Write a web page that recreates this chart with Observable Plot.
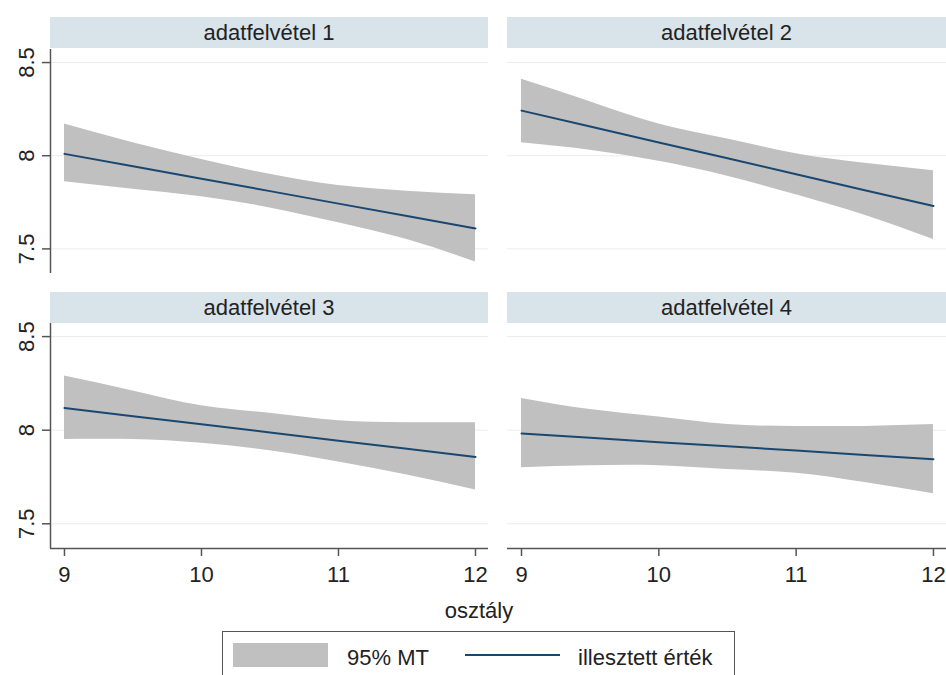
<!DOCTYPE html>
<html>
<head>
<meta charset="utf-8">
<script src="https://cdn.jsdelivr.net/npm/d3@7"></script>
<script src="https://cdn.jsdelivr.net/npm/@observablehq/plot@0.6"></script>
<style>
  html, body { margin: 0; padding: 0; overflow: hidden; background: #fff; }
  #chart { position: relative; width: 946px; height: 675px; font-family: "Liberation Sans", Arial, sans-serif; color: #222; }
  .strip { position: absolute; height: 31px; line-height: 31px; background: #d9e3ea; text-align: center; font-size: 22px; color: #222; }
  .abs { position: absolute; }
  .txt { position: absolute; font-size: 22px; line-height: 26px; white-space: nowrap; color: #222; }
  svg { overflow: visible; }
</style>
</head>
<body>
<div id="chart"></div>
<script>
// ---- data ----
const xs = [9, 9.5, 10, 10.5, 11, 11.5, 12];

const fit1 = [8.010, 7.943, 7.877, 7.810, 7.743, 7.677, 7.610];
const lo1  = [7.86, 7.82, 7.78, 7.72, 7.64, 7.55, 7.43];
const hi1  = [8.17, 8.07, 7.98, 7.90, 7.84, 7.81, 7.79];

const fit2 = [8.242, 8.157, 8.071, 7.986, 7.901, 7.815, 7.730];
const lo2  = [8.07, 8.03, 7.97, 7.89, 7.79, 7.68, 7.55];
const hi2  = [8.41, 8.29, 8.17, 8.09, 8.01, 7.96, 7.92];

const fit3 = [8.119, 8.075, 8.032, 7.988, 7.944, 7.901, 7.857];
const lo3  = [7.95, 7.95, 7.93, 7.89, 7.83, 7.76, 7.68];
const hi3  = [8.29, 8.21, 8.13, 8.09, 8.05, 8.04, 8.04];

const fit4 = [7.982, 7.959, 7.936, 7.914, 7.891, 7.868, 7.845];
const lo4  = [7.80, 7.81, 7.81, 7.79, 7.77, 7.72, 7.66];
const hi4  = [8.17, 8.11, 8.07, 8.03, 8.02, 8.02, 8.03];

const panelTitles = ["adatfelvétel 1", "adatfelvétel 2", "adatfelvétel 3", "adatfelvétel 4"];
const yTicks = [7.5, 8, 8.5];
const yTickLabels = ["7.5", "8", "8.5"];
const xTicks = [9, 10, 11, 12];
const xTickLabels = ["9", "10", "11", "12"];
const xTitle = "osztály";
const legendLabels = ["95% MT", "illesztett érték"];

// ---- styling ----
const bandColor = "#c0c0c0";
const lineColor = "#1a476f";
const axisColor = "#555";
const gridColor = "#ececec";
const xDomain = [8.898, 12.095];
const yDomain = [7.368, 8.57];

const series = [
  {fit: fit1, lo: lo1, hi: hi1},
  {fit: fit2, lo: lo2, hi: hi2},
  {fit: fit3, lo: lo3, hi: hi3},
  {fit: fit4, lo: lo4, hi: hi4}
];

const layout = [
  {left: 0,   top: 39,  fw: 438, fh: 224, ml: 50, mb: 0,  showY: true,  showX: false, sx: 50,  sy: 17},
  {left: 507, top: 39,  fw: 439, fh: 224, ml: 0,  mb: 0,  showY: false, showX: false, sx: 507, sy: 17},
  {left: 0,   top: 313, fw: 438, fh: 225, ml: 50, mb: 45, showY: true,  showX: true,  sx: 50,  sy: 292},
  {left: 507, top: 313, fw: 439, fh: 225, ml: 0,  mb: 45, showY: false, showX: true,  sx: 507, sy: 292}
];

const chart = document.getElementById("chart");

series.forEach((s, i) => {
  const L = layout[i];
  const rows = xs.map((x, j) => ({x, fit: s.fit[j], lo: s.lo[j], hi: s.hi[j]}));
  const marks = [
    Plot.ruleY(yTicks, {stroke: gridColor, strokeWidth: 1}),
    Plot.areaY(rows, {x: "x", y1: "lo", y2: "hi", fill: bandColor, curve: "natural"}),
    Plot.lineY(rows, {x: "x", y: "fit", stroke: lineColor, strokeWidth: 2})
  ];
  if (L.showY) {
    marks.push(
      Plot.axisY(yTicks, {tickSize: 8, tickFormat: () => "", stroke: axisColor, strokeWidth: 1.5, label: null}),
      Plot.ruleX([xDomain[0]], {stroke: axisColor, strokeWidth: 1.5}),
      Plot.text(yTicks, {y: d => d, text: (d, j) => yTickLabels[j], frameAnchor: "left", dx: -24,
                         rotate: -90, textAnchor: "middle", fontSize: 22, fill: "#222"})
    );
  }
  if (L.showX) {
    marks.push(
      Plot.axisX(xTicks, {tickSize: 8, tickPadding: 10, tickFormat: (d, j) => xTickLabels[j],
                          stroke: axisColor, strokeWidth: 1.5, fontSize: 22, fill: "#222", label: null}),
      Plot.ruleY([yDomain[0]], {stroke: axisColor, strokeWidth: 1.5})
    );
  }
  const svg = Plot.plot({
    width: L.ml + L.fw,
    height: 10 + L.fh + L.mb,
    marginLeft: L.ml,
    marginRight: 0,
    marginTop: 10,
    marginBottom: L.mb,
    x: {domain: xDomain, axis: null},
    y: {domain: yDomain, axis: null},
    style: {fontFamily: '"Liberation Sans", Arial, sans-serif', fontSize: "22px", color: "#222",
            background: "transparent", overflow: "visible"},
    marks
  });
  svg.style.position = "absolute";
  svg.style.left = L.left + "px";
  svg.style.top = L.top + "px";
  chart.appendChild(svg);

  const strip = document.createElement("div");
  strip.className = "strip";
  strip.style.left = L.sx + "px";
  strip.style.top = L.sy + "px";
  strip.style.width = L.fw + "px";
  strip.textContent = panelTitles[i];
  chart.appendChild(strip);
});

// x-axis title
const xt = document.createElement("div");
xt.className = "txt";
xt.style.left = "379px";
xt.style.width = "200px";
xt.style.textAlign = "center";
xt.style.top = "598px";
xt.textContent = xTitle;
chart.appendChild(xt);

// legend
const lg = document.createElement("div");
lg.className = "abs";
lg.style.left = "222px";
lg.style.top = "631px";
lg.style.width = "511px";
lg.style.height = "70px";
lg.style.border = "1.5px solid #555";
lg.style.background = "#fff";
chart.appendChild(lg);

const sw = document.createElement("div");
sw.className = "abs";
sw.style.left = "233px";
sw.style.top = "643px";
sw.style.width = "95px";
sw.style.height = "24px";
sw.style.background = bandColor;
chart.appendChild(sw);

const t1 = document.createElement("div");
t1.className = "txt";
t1.style.left = "347px";
t1.style.top = "645px";
t1.textContent = legendLabels[0];
chart.appendChild(t1);

const ln = document.createElement("div");
ln.className = "abs";
ln.style.left = "465px";
ln.style.top = "654px";
ln.style.width = "95px";
ln.style.height = "2px";
ln.style.background = lineColor;
chart.appendChild(ln);

const t2 = document.createElement("div");
t2.className = "txt";
t2.style.left = "578px";
t2.style.top = "645px";
t2.textContent = legendLabels[1];
chart.appendChild(t2);
</script>
</body>
</html>
